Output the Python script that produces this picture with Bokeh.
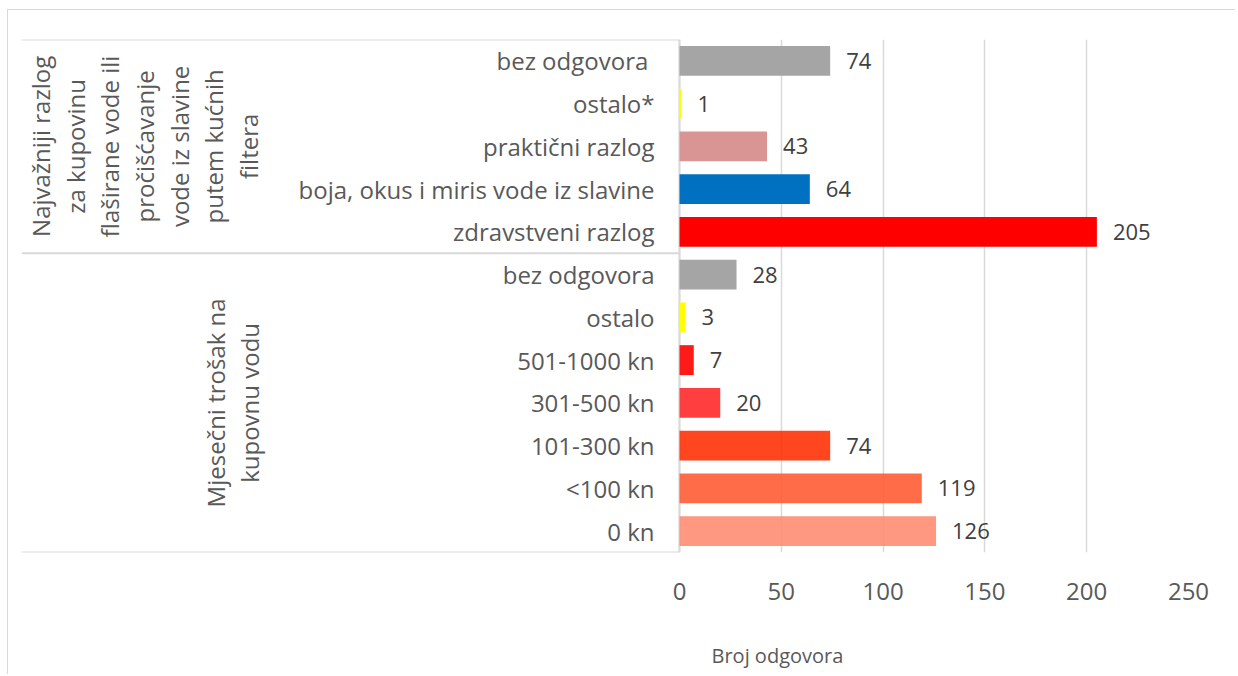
from math import pi
from bokeh.plotting import figure
from bokeh.models import Range1d, ColumnDataSource, Title
from bokeh.core.properties import value
from bokeh.embed import file_html
from bokeh.resources import INLINE

# ---- data ----
group_names = [
    "Najvažniji razlog\nza kupovinu\nflaširane vode ili\npročišćavanje\nvode iz slavine\nputem kućnih\nfiltera",
    "Mjesečni trošak na\nkupovnu vodu",
]
group_sizes = [5, 7]
categories = [
    "bez odgovora ", "ostalo*", "praktični razlog",
    "boja, okus i miris vode iz slavine", "zdravstveni razlog",
    "bez odgovora", "ostalo", "501-1000 kn", "301-500 kn",
    "101-300 kn", "<100 kn", "0 kn",
]
counts = [74, 1, 43, 64, 205, 28, 3, 7, 20, 74, 119, 126]
x_ticks = [0, 50, 100, 150, 200, 250]
x_title = "Broj odgovora"

# ---- styles ----
bar_colors = ["#A5A5A5", "#FFFF00", "#D99594", "#0070C0", "#FF0000",
              "#A5A5A5", "#FFFF00", "#FF1A1A", "#FF3F3F",
              "#FF2C00", "#FF582F", "#FF8A6E"]
bar_alphas = [1, 1, 1, 1, 1, 1, 1, 1, 1, 0.88, 0.88, 0.88]
group_label_offsets = [123, 211]   # px from the left of the frame
FONT = "Open Sans"
TXT = "#595959"
GRID = "#D9D9D9"

n = len(categories)
ys = [i + 0.5 for i in range(n)]
bounds = [0]
for s in group_sizes:
    bounds.append(bounds[-1] + s)
group_centers = [(bounds[i] + bounds[i + 1]) / 2 for i in range(len(group_sizes))]

X0 = -323.2
p = figure(width=1228, height=665, output_backend="svg", toolbar_location=None,
           x_range=Range1d(X0, x_ticks[-1]), y_range=Range1d(n, 0),
           y_axis_location=None,
           min_border_left=13, min_border_right=48, min_border_top=29, min_border_bottom=123)
p.styles = {"border-left": "1px solid #D9D9D9", "border-top": "1px solid #D9D9D9",
            "margin-left": "7px", "margin-top": "9px"}
p.outline_line_color = None
p.background_fill_color = "white"
p.border_fill_color = "white"

p.xaxis.ticker = x_ticks
p.xaxis.axis_line_color = None
p.xaxis.major_tick_line_color = None
p.xaxis.minor_tick_line_color = None
p.xaxis.major_label_text_font = FONT
p.xaxis.major_label_text_font_size = "24px"
p.xaxis.major_label_text_color = TXT
p.xaxis.major_label_standoff = 24
p.xgrid.ticker = x_ticks
p.xgrid.grid_line_color = GRID
p.xgrid.grid_line_width = 1.5
p.ygrid.visible = False

# separators and category axis line
p.segment(x0=X0, x1=0, y0=bounds, y1=bounds, line_color=GRID, line_width=2)
p.segment(x0=0, x1=0, y0=0, y1=n, line_color=GRID, line_width=2)

src = ColumnDataSource(dict(y=ys, v=counts, cat=categories, c=bar_colors, a=bar_alphas,
                            lab=[str(v) for v in counts]))
p.hbar(y="y", left=0, right="v", height=0.7, fill_color="c", fill_alpha="a",
       line_color=None, source=src)

p.text(x="v", y="y", text="lab", x_offset=16, text_align="left", text_baseline="middle",
       text_font=value(FONT), text_font_size="22px", text_color="#404040", source=src)
p.text(x=0, y="y", text="cat", x_offset=-25, text_align="right", text_baseline="middle",
       text_font=value(FONT), text_font_size="24px", text_color=TXT, source=src)

gsrc = ColumnDataSource(dict(y=group_centers, t=group_names, xo=group_label_offsets))
p.text(x=X0, y="y", text="t", x_offset="xo", angle=pi / 2, text_align="center",
       text_baseline="middle", text_line_height=1.05,
       text_font=value(FONT), text_font_size="24px", text_color=TXT, source=gsrc)

# axis title, placed below the tick labels and shifted as in the original
p.add_layout(Title(text=" \n" + x_title, align="left", offset=690, standoff=0,
                   vertical_align="bottom", text_line_height=1.4,
                   text_font=FONT, text_font_size="20px",
                   text_font_style="normal", text_color=TXT), "below")

open("out.html", "w").write(file_html(p, INLINE))
